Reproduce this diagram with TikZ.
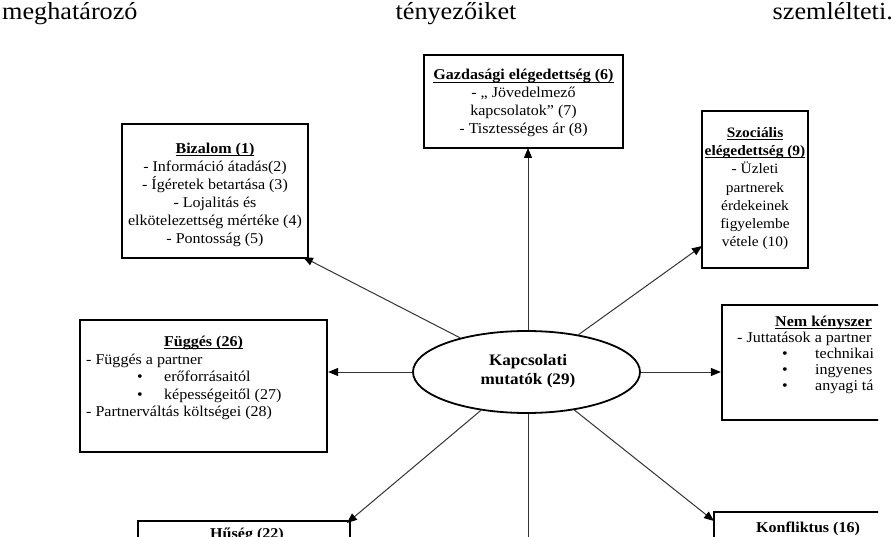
\documentclass[tikz,border=0pt]{standalone}
\usepackage{fontspec}
\setmainfont{Liberation Serif}[FakeStretch=1.07]
\usetikzlibrary{arrows.meta,shapes.geometric}
\newcommand\myul[1]{\setbox0\hbox{\textbf{#1}}\rlap{\rule[-2.6pt]{\wd0}{1pt}}\box0}
\begin{document}
\begin{tikzpicture}[x=1pt,y=-1pt,
  frame/.style={draw, line width=2.3pt, inner sep=0pt},
  txt/.style={font=\fontsize{15}{18}\selectfont, inner sep=0pt, align=center},
  toptxt/.style={font=\fontsize{24.5}{29}\selectfont, inner sep=0pt},
  conn/.style={draw=black!80, line width=1pt, -{Triangle[length=10pt,width=8pt,color=black]}},
  plainconn/.style={draw=black!80, line width=1pt}]
\useasboundingbox (0,0) rectangle (896,537);
\node[toptxt, anchor=base west] (t1) at (2,20) {meghatározó};
\node[toptxt, anchor=base] (t2) at (456,20) {tényezőiket};
\node[toptxt, anchor=base east] (t3) at (893,20) {szemlélteti.};
\begin{scope}
\clip (0,40) rectangle (878,537);
% boxes
\node[frame, minimum width=199pt, minimum height=93pt] (gaz) at (523.5,101.5) {};
\node[txt] (gazt) at (523.5,103.4) {\myul{Gazdasági elégedettség (6)}\\- „ Jövedelmező\\kapcsolatok” (7)\\- Tisztességes ár (8)};
\node[frame, minimum width=186pt, minimum height=134pt] (biz) at (215,191) {};
\node[txt] (bizt) at (215,194.5) {\myul{Bizalom (1)}\\- Információ átadás(2)\\- Ígéretek betartása (3)\\- Lojalitás és\\elkötelezettség mértéke (4)\\- Pontosság (5)};
\node[frame, minimum width=106pt, minimum height=157pt] (szoc) at (755,189.5) {};
\node[txt, font=\fontsize{14.4}{18.1}\selectfont] (szoct) at (755,188.6) {\myul{Szociális}\\\myul{elégedettség (9)}\\- Üzleti\\partnerek\\érdekeinek\\figyelembe\\vétele (10)};
\node[frame, minimum width=247pt, minimum height=132pt] (fug) at (203.5,386) {};
\node[txt] (fugt) at (203.5,343) {\myul{Függés (26)}};
\node[txt, align=left, anchor=west, font=\fontsize{15}{17.5}\selectfont] (fugl) at (86,386.75) {- Függés a partner\\\hspace*{51pt}\makebox[27pt][l]{\textbullet}erőforrásaitól\\\hspace*{51pt}\makebox[27pt][l]{\textbullet}képességeitől (27)\\- Partnerváltás költségei (28)};
\node[frame, minimum width=278pt, minimum height=115pt] (nem) at (861,362.5) {};
\node[txt, anchor=west] (nemt) at (775,323) {\myul{Nem kényszer}};
\node[txt, align=left, anchor=west, font=\fontsize{15}{16}\selectfont] (neml) at (737,363) {- Juttatások a partner\\\hspace*{45pt}\makebox[33pt][l]{\textbullet}technikai\\\hspace*{45pt}\makebox[33pt][l]{\textbullet}ingyenes\\\hspace*{45pt}\makebox[33pt][l]{\textbullet}anyagi tá};
\node[frame, minimum width=212pt, minimum height=80pt] (hu) at (244,561) {};
\node[txt] (hut) at (247,535) {\textbf{Hűség (22)}};
\node[frame, minimum width=286pt, minimum height=90pt] (konf) at (857,557) {};
\node[txt] (konft) at (808,529) {\textbf{Konfliktus (16)}};
% centre
\node[ellipse, draw, line width=1.8pt, minimum width=227pt, minimum height=82pt, inner sep=0pt] (ell) at (526.5,372) {};
\node[txt, font=\fontsize{16}{19.5}\selectfont\bfseries] (ellt) at (528,371) {Kapcsolati\\mutatók (29)};
% connectors
\coordinate (bizend) at (303,257);
\coordinate (szocend) at (702,246);
\coordinate (huend) at (347,523);
\coordinate (konfend) at (714,521);
\coordinate (downend) at (528,560);
\draw[conn] (ell.north -| 528,0) -- (528,148);
\draw[conn] (ell) -- (bizend);
\draw[conn] (ell) -- (szocend);
\draw[conn] (ell.west) -- (fug.east |- ell.west);
\draw[conn] (ell.east) -- (nem.west |- ell.east);
\draw[conn] (ell) -- (huend);
\draw[conn] (ell) -- (konfend);
\draw[plainconn] (ell.south -| 528,0) -- (downend);
\end{scope}
\end{tikzpicture}
\end{document}
